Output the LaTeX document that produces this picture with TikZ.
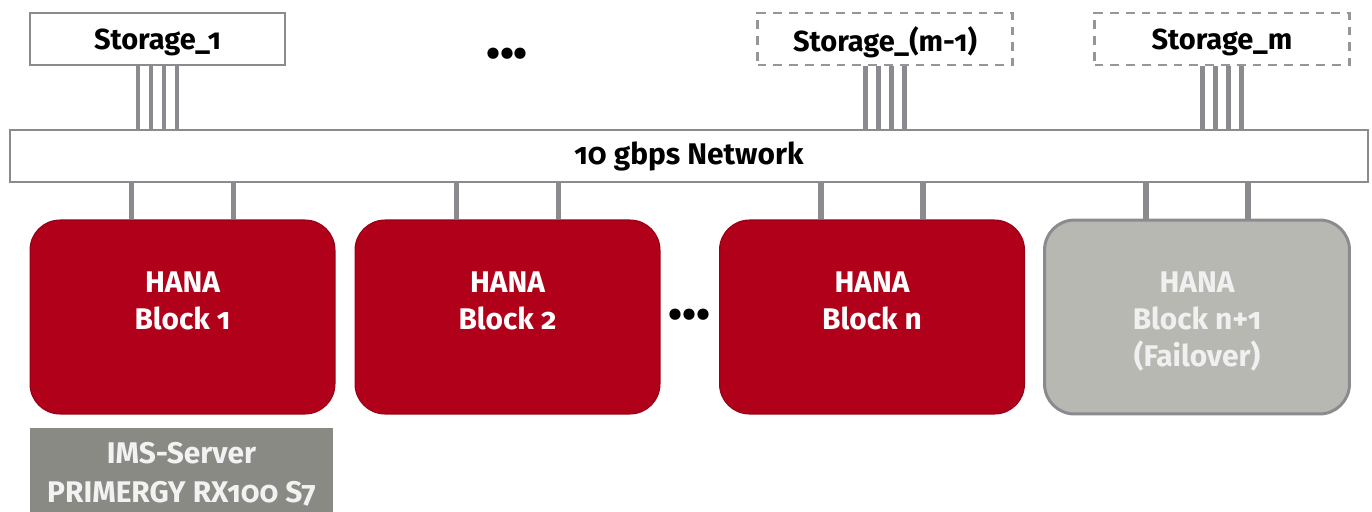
\documentclass[tikz,border=0pt]{standalone}
\usepackage{fontspec}
\setmainfont{Fira Sans}[Numbers=OldStyle]
\usetikzlibrary{positioning}
\definecolor{hanared}{RGB}{176,0,26}
\definecolor{hanaline}{RGB}{150,0,22}
\definecolor{linkgray}{RGB}{139,139,143}
\definecolor{dashgray}{RGB}{150,150,150}
\definecolor{failgray}{RGB}{184,184,179}
\definecolor{imsgray}{RGB}{138,138,132}
\newcommand\topstrut{\rule{0pt}{17pt}}

\begin{document}
\begin{tikzpicture}[x=0.02cm,y=-0.02cm,
  link/.style={draw=linkgray,line width=3.4pt},
  slink/.style={draw=linkgray,line width=2.8pt},
  storage/.style={draw=linkgray,line width=1.6pt,fill=white,minimum width=5.1cm,
    minimum height=1.04cm,inner sep=0pt,text depth=0pt,font=\bfseries\fontsize{16.5}{19}\selectfont},
  spare/.style={storage,draw=dashgray,dash pattern=on 5pt off 4pt},
  block/.style={fill=hanared,draw=hanaline,line width=0.6pt,rounded corners=0.6cm,
    minimum width=6.1cm,minimum height=3.88cm,align=center,text=white,
    font=\bfseries\fontsize{17}{21}\selectfont},
  dots/.style={font=\bfseries\fontsize{23}{26}\selectfont}]
  \useasboundingbox (0,0) rectangle (1372,511);
  % speicher oben
  \node[storage] (st1) at (157.5,39) {Storage\_1};
  \node[spare] (stm1) at (885,39) {Storage\_(m-1)};
  \node[spare] (stm) at (1222,39) {Storage\_m};
  \node[dots] (topdots) at (507,58) {•••};
  % netz
  \node[draw=linkgray,line width=1.5pt,fill=white,minimum width=27.16cm,minimum height=1.04cm,
    font=\bfseries\fontsize{17}{20}\selectfont] (net) at (689,156) {10 gbps Network};
  % hana bloecke
  \node[block] (b1) at (182.5,317) {\topstrut HANA\\Block 1\\\phantom{(Failover)}};
  \node[block] (b2) at (507.5,317) {\topstrut HANA\\Block 2\\\phantom{(Failover)}};
  \node[block] (bn) at (872,317) {\topstrut HANA\\Block n\\\phantom{(Failover)}};
  \node[block,fill=failgray,draw=linkgray,line width=1.7pt,text=white!94!black] (bf) at (1197,317)
    {\topstrut HANA\\Block n+1\\(Failover)};
  \node[dots] (middots) at (689,319) {•••};
  % ims
  \node[fill=imsgray,minimum width=6.06cm,minimum height=1.64cm,align=center,text=white!95!black,
    font=\bfseries\fontsize{17}{22}\selectfont] (ims) at (181.5,470)
    {\topstrut IMS-Server\\PRIMERGY RX100 S7};
  % verbindungen
  \foreach \s in {st1,stm1,stm}
    \foreach \dx in {-19.5,-6.5,6.5,19.5}
      \draw[slink] ([xshift=\dx*0.02cm]\s.south) -- ([xshift=\dx*0.02cm]\s.south |- net.north);
  \foreach \b in {b1,b2,bn,bf}
    \foreach \dx in {-51,51}
      \draw[link] ([xshift=\dx*0.02cm]\b.north) -- ([xshift=\dx*0.02cm]\b.north |- net.south);
\end{tikzpicture}
\end{document}
